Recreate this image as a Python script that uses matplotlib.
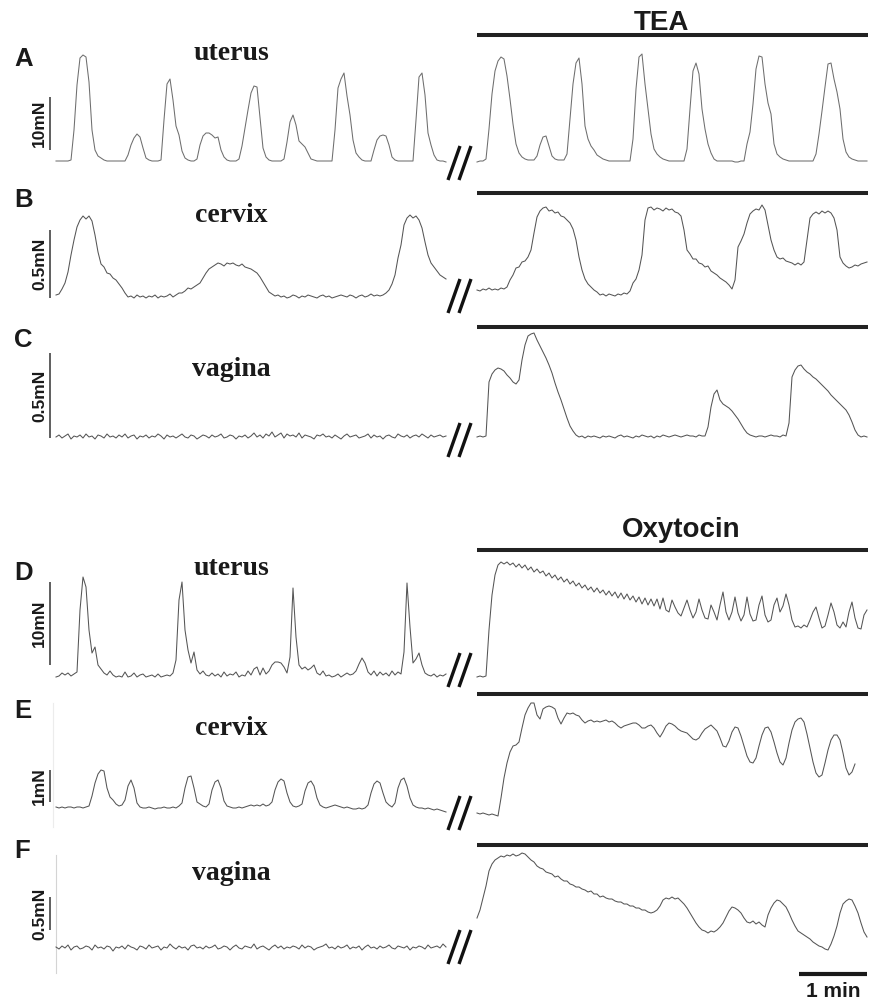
#%% -- imports --
import matplotlib
matplotlib.use('Agg')
import matplotlib.pyplot as plt

W, H = 869, 1001
DT = 60 * 3 / 68          # s between samples
N_SPAN = 130              # sample intervals per segment

#%% -- data: force above baseline (raw transducer units), one sample per DT --
uterus_ctrl_A = [0, 0, 0, 0, 0, 1, 31, 76, 103, 106,
                 104, 79, 31, 11, 5, 3, 1, 0, 0, 0,
                 0, 0, 0, 0, 6, 16, 23, 27, 24, 13,
                 3, 1, 0, 0, 0, 1, 41, 77, 82, 61,
                 35, 26, 10, 3, 1, 0, 0, 2, 16, 25,
                 28, 28, 26, 23, 24, 11, 4, 1, 0, 0,
                 0, 2, 15, 33, 51, 68, 75, 74, 43, 13,
                 4, 1, 0, 0, 0, 0, 2, 19, 39, 46,
                 36, 20, 17, 14, 8, 2, 1, 0, 0, 0,
                 0, 0, 0, 31, 73, 82, 88, 65, 46, 21,
                 8, 4, 1, 0, 0, 0, 11, 21, 25, 26,
                 25, 16, 4, 1, 0, 0, 0, 0, 0, 0,
                 41, 84, 88, 66, 28, 16, 6, 1, 0, 0, -1]
uterus_tea_A = [-1, 0, 0, 2, 32, 67, 90, 100, 104, 102,
                85, 62, 37, 17, 8, 4, 2, 1, 1, 1,
                5, 16, 24, 25, 15, 5, 2, 1, 1, 1,
                7, 42, 77, 98, 103, 77, 35, 22, 15, 11,
                6, 4, 2, 1, 0, 0, 0, 0, 0, 0,
                0, 0, 22, 72, 104, 107, 77, 52, 27, 12,
                7, 4, 2, 1, 0, 0, 0, 0, 0, 0,
                12, 52, 90, 98, 87, 52, 32, 17, 8, 2,
                0, 0, 0, 0, 0, 0, -1, -1, 0, 0,
                17, 29, 57, 92, 105, 104, 77, 58, 47, 17,
                7, 4, 2, 1, 0, 0, 0, 0, 0, 0,
                0, 0, 0, 7, 27, 50, 74, 97, 98, 82,
                69, 52, 22, 9, 4, 2, 1, 0, 0, 0, 0]
cervix_ctrl_B = [2, 3, 8, 14, 25, 42, 57, 70, 77, 81,
                 78, 81, 76, 62, 45, 33, 30, 24, 23, 19,
                 17, 13, 9, 4, 0, 1, -1, 2, 0, 1,
                 -1, 1, 0, 2, -1, 1, 0, 1, 3, 0,
                 2, 4, 4, 6, 9, 8, 10, 12, 14, 19,
                 24, 28, 30, 32, 34, 33, 31, 34, 33, 34,
                 32, 31, 33, 30, 29, 28, 26, 24, 20, 15,
                 10, 5, 3, 1, 2, 0, 1, -1, 0, 2,
                 1, -1, 1, 0, 2, 1, 0, -1, 1, 2,
                 0, 1, -1, 0, 1, 2, 1, 0, 2, 1,
                 -1, 1, 2, 0, 1, 3, 1, 2, 1, 2,
                 4, 7, 13, 22, 39, 52, 72, 79, 82, 79,
                 81, 77, 69, 55, 42, 34, 30, 26, 22, 20, 18]
cervix_tea_B = [7, 6, 8, 7, 9, 7, 8, 7, 9, 8,
                10, 17, 22, 29, 30, 35, 36, 40, 47, 64,
                80, 86, 89, 90, 86, 87, 84, 85, 81, 80,
                77, 74, 68, 57, 40, 27, 18, 13, 10, 7,
                5, 2, 3, 1, 3, 2, 1, 3, 2, 4,
                3, 6, 14, 18, 27, 42, 77, 89, 90, 87,
                89, 88, 86, 89, 87, 88, 85, 84, 81, 67,
                47, 43, 38, 38, 34, 33, 30, 31, 26, 24,
                22, 19, 17, 15, 12, 8, 17, 50, 56, 63,
                74, 83, 86, 88, 87, 92, 87, 72, 57, 47,
                40, 38, 39, 36, 35, 34, 32, 34, 32, 35,
                57, 79, 83, 85, 83, 86, 84, 86, 84, 79,
                67, 40, 34, 31, 29, 30, 32, 31, 33, 34, 35]
vagina_ctrl_C = [0, 2, -1, 1, 3, -2, 1, 0, 2, -1,
                 3, 0, 1, -2, 2, 1, -1, 3, 0, 1,
                 -1, 2, 0, 3, -1, 1, 2, -2, 1, 0,
                 2, -1, 1, 0, 3, 1, -2, 2, 0, 1,
                 -1, 1, 3, 0, -1, 2, 1, -2, 0, 2,
                 1, -1, 2, 0, 1, 3, -1, 0, 2, 1,
                 -2, 1, 0, 2, -1, 1, 4, 0, 2, -1,
                 3, 1, 5, 0, 2, 4, -1, 3, 1, 2,
                 0, 4, -1, 2, 1, 0, -2, 2, 1, 3,
                 0, 1, -1, 2, 0, -2, 1, 3, 0, 1,
                 2, -1, 0, 1, 3, -1, 2, 0, 1, -2,
                 1, 2, 0, -1, 3, 1, 0, 2, -1, 1,
                 2, 0, 3, 1, -1, 2, 0, 1, 2, 0, 1]
vagina_tea_C = [0, 1, 0, 1, 55, 63, 67, 69, 68, 66,
                62, 59, 55, 53, 57, 77, 92, 101, 103, 104,
                97, 91, 85, 79, 72, 64, 54, 45, 37, 28,
                19, 11, 6, 2, 0, 1, -1, 1, 0, 1,
                0, -1, 1, 0, 1, 0, -1, 1, 2, 0,
                1, 0, -1, 1, 0, 2, 1, 0, 1, -1,
                1, 0, 2, 1, 0, 1, 2, 1, 0, 1,
                2, 1, 1, 0, 2, 1, 1, 10, 30, 43,
                47, 37, 33, 31, 29, 26, 22, 18, 13, 8,
                4, 2, 1, 0, 1, 1, 0, 1, 2, 1,
                1, 0, 2, 1, 14, 60, 67, 71, 72, 68,
                65, 63, 60, 58, 55, 52, 49, 46, 42, 39,
                36, 33, 30, 27, 22, 15, 7, 2, 0, 1, 0]
uterus_ctrl_D = [0, 1, 4, 2, 4, 1, 3, 5, 67, 100,
                 90, 47, 24, 30, 12, 8, 4, 2, 6, 2,
                 0, 1, 0, 5, 0, 1, 4, 0, 2, 3,
                 0, 1, 2, 0, 3, 0, 1, 2, 1, 4,
                 17, 77, 95, 47, 27, 14, 25, 7, 3, 6,
                 2, 1, 4, 1, 3, 0, 5, 1, 3, 2,
                 5, 0, 2, 1, 6, 2, 8, 10, 2, 9,
                 3, 6, 12, 15, 15, 14, 10, 4, 20, 89,
                 40, 12, 8, 10, 7, 9, 12, 4, 2, 6,
                 1, 2, 0, 1, 3, 0, 2, 4, 2, 3,
                 6, 13, 19, 14, 5, 2, 6, 1, 5, 2,
                 4, 1, 6, 2, 5, 3, 25, 94, 50, 14,
                 18, 24, 12, 4, 2, 1, 3, 0, 2, 1, 3]
uterus_oxt_D = [0, 1, 0, 1, 47, 82, 102, 112, 115, 113,
                115, 112, 114, 110, 113, 109, 112, 107, 110, 105,
                108, 104, 106, 101, 104, 99, 102, 97, 100, 95,
                98, 93, 96, 91, 94, 89, 92, 87, 90, 85,
                89, 84, 87, 82, 86, 81, 85, 79, 84, 78,
                83, 77, 81, 75, 80, 73, 79, 72, 78, 71,
                78, 68, 79, 67, 65, 77, 70, 64, 61, 69,
                77, 67, 59, 65, 78, 67, 59, 58, 72, 65,
                57, 72, 85, 65, 57, 65, 80, 64, 56, 62,
                80, 63, 56, 57, 72, 81, 62, 55, 57, 72,
                79, 65, 71, 83, 72, 57, 50, 51, 49, 52,
                50, 57, 65, 70, 59, 49, 51, 62, 74, 65,
                52, 49, 55, 50, 65, 75, 59, 49, 48, 62, 67]
cervix_ctrl_E = [1, 0, 1, 0, 1, 1, 0, 1, 1, 0,
                 1, 2, 12, 25, 34, 38, 37, 20, 11, 8,
                 4, 2, 3, 8, 22, 28, 20, 5, 1, 0,
                 0, 1, 0, -1, 0, 0, 1, 0, 0, 1,
                 0, 2, 5, 20, 31, 32, 20, 6, 4, 2,
                 1, 4, 18, 26, 28, 20, 7, 2, 1, 0,
                 0, 1, 0, 1, 2, 3, 2, 3, 2, 4,
                 2, 3, 6, 18, 26, 29, 27, 15, 6, 2,
                 1, 2, 4, 17, 25, 27, 22, 10, 3, 1,
                 0, 1, 2, 3, 2, 1, 0, 1, 0, -1,
                 -1, 0, -1, 0, 3, 15, 24, 27, 25, 15,
                 6, 3, 1, 5, 20, 28, 30, 22, 10, 3,
                 1, 0, 0, -1, 0, -1, -2, -1, -2, -3, -4]
cervix_oxt_E = [-5, -6, -5, -6, -7, -6, -7, -8, 10, 30,
                45, 56, 62, 63, 66, 80, 93, 100, 105, 105,
                93, 89, 99, 101, 102, 101, 99, 90, 84, 90,
                95, 94, 95, 93, 92, 88, 85, 87, 88, 86,
                87, 86, 87, 88, 86, 87, 85, 82, 80, 82,
                83, 84, 85, 85, 83, 80, 80, 82, 83, 80,
                75, 71, 76, 82, 85, 84, 82, 79, 77, 76,
                75, 72, 69, 68, 70, 75, 79, 81, 83, 80,
                77, 70, 62, 61, 67, 76, 81, 80, 72, 62,
                52, 46, 45, 50, 62, 73, 80, 81, 76, 66,
                55, 46, 43, 50, 65, 78, 86, 89, 90, 86,
                74, 60, 46, 35, 31, 33, 45, 58, 68, 73,
                73, 68, 55, 40, 33, 36, 44]
vagina_ctrl_F = [1, -1, 2, 0, 3, -2, 1, 2, -1, 0,
                 2, 1, -2, 3, 0, 1, -1, 2, 1, -3,
                 1, 0, 2, -1, 3, 1, 0, -2, 2, 1,
                 -1, 3, 0, 1, 2, -2, 1, 0, 4, 1,
                 -1, 2, 0, 1, -2, 2, 3, 0, 1, -1,
                 2, 0, 1, 3, -1, 0, 2, 1, -2, 1,
                 3, 0, -1, 2, 1, 0, 4, -1, 1, 2,
                 0, -2, 1, 3, 0, 2, -1, 1, 0, 2,
                 1, -1, 3, 0, 2, 1, -2, 0, 1, 2,
                 4, 0, 1, -1, 2, 0, 1, 3, -1, 1,
                 0, 2, -2, 1, 3, 0, 1, -1, 2, 0,
                 1, 3, 0, -1, 2, 1, 0, 2, -2, 1,
                 0, 2, 1, -1, 3, 0, 1, 2, 0, 4, 1]
vagina_oxt_F = [30, 38, 50, 62, 77, 84, 88, 90, 92, 91,
                93, 92, 94, 92, 93, 95, 94, 91, 88, 86,
                82, 80, 79, 76, 75, 74, 71, 72, 69, 67,
                67, 64, 63, 61, 61, 59, 58, 56, 57, 54,
                54, 51, 52, 50, 49, 49, 47, 46, 46, 44,
                44, 42, 42, 40, 40, 38, 38, 36, 35, 36,
                38, 42, 48, 50, 49, 51, 49, 50, 47, 44,
                40, 35, 30, 25, 21, 18, 17, 15, 17, 16,
                18, 21, 25, 31, 37, 41, 40, 38, 35, 30,
                26, 25, 27, 24, 26, 23, 21, 33, 40, 45,
                48, 47, 44, 41, 35, 28, 22, 17, 15, 13,
                11, 9, 6, 4, 2, 1, -1, -2, 4, 12,
                22, 35, 44, 47, 49, 48, 42, 35, 25, 16, 11]

panels = ['A', 'B', 'C', 'D', 'E', 'F']
tissues = ['uterus', 'cervix', 'vagina', 'uterus', 'cervix', 'vagina']
control = [uterus_ctrl_A, cervix_ctrl_B, vagina_ctrl_C, uterus_ctrl_D, cervix_ctrl_E, vagina_ctrl_F]
treated = [uterus_tea_A, cervix_tea_B, vagina_tea_C, uterus_oxt_D, cervix_oxt_E, vagina_oxt_F]
treatments = ['TEA', 'Oxytocin']
# calibration bars: label, bar start and length in raw units
cal_labels = ['10mN', '0.5mN', '0.5mN', '10mN', '1mN', '0.5mN']
cal_start = [11, -1, -1, 12, 6, 18]
cal_length = [53, 68, 85, 83, 32, 33]

#%% -- layout (pixels) --
row_base = [161, 297, 437, 677, 808, 948]
drug_bar_y = [35, 193, 327, 550, 694, 845]
break_y = [163, 296, 440, 670, 813, 947]
letter_y = [66, 207, 347, 580, 718, 858]
title_y = [60, 222, 376, 575, 735, 880]
left_x0, right_x0 = 56, 477
trace_color = '#555555'
bold_sans = dict(family='Liberation Sans', weight='bold', color='#1a1a1a')

fig = plt.figure(figsize=(W / 100, H / 100), dpi=100)
fig.patch.set_facecolor('white')

ov = fig.add_axes([0, 0, 1, 1])
ov.set_xlim(0, W)
ov.set_ylim(H, 0)
ov.axis('off')


def trace_axes(x0, base, above=140, below=45):
    ax = fig.add_axes([x0 / W, 1 - (base + below) / H, 3 * N_SPAN / W, (above + below) / H])
    ax.set_xlim(0, N_SPAN * DT)
    ax.set_ylim(-below, above)
    ax.axis('off')
    ax.patch.set_alpha(0)
    return ax


for k, p in enumerate(panels):
    base = row_base[k]
    for x0, trace in [(left_x0, control[k]), (right_x0, treated[k])]:
        ax = trace_axes(x0, base)
        t = [i * DT for i in range(len(trace))]
        col = '#6e6e6e' if k == 0 else trace_color
        ax.plot(t, trace, color=col, lw=0.75, clip_on=False)
        if x0 == left_x0:
            # calibration bar + label
            xb = -2 * DT
            ax.plot([xb, xb], [cal_start[k], cal_start[k] + cal_length[k]],
                    color='#333333', lw=1.1, clip_on=False, solid_capstyle='butt')
            ax.text(-5.4 * DT, cal_start[k] + cal_length[k] / 2, cal_labels[k],
                    rotation=90, ha='center', va='center', fontsize=12.5, **bold_sans)
        if k == 5 and x0 == right_x0:
            ax.plot([N_SPAN * DT - 60, N_SPAN * DT], [-26, -26], color='#1a1a1a', lw=3,
                    clip_on=False, solid_capstyle='butt')
            ax.text(N_SPAN * DT - 30, -49, '1 min', ha='center', va='baseline',
                    fontsize=15, **bold_sans)

    # drug bar
    ov.plot([477, 868], [drug_bar_y[k], drug_bar_y[k]], color='#222222', lw=2.9,
            solid_capstyle='butt')
    # break marks
    c = break_y[k]
    for xo in (448, 459):
        ov.plot([xo, xo + 12], [c + 17, c - 17], color='#111111', lw=2.4, solid_capstyle='butt')
    ov.text(14, letter_y[k], p, ha='left', va='baseline', fontsize=18.5, **bold_sans)
    ov.text(231, title_y[k], tissues[k], ha='center', va='baseline', fontsize=20,
            family='Liberation Serif', weight='bold', color='#1a1a1a')

# faint chart-recorder edges
ov.plot([56, 56], [855, 973], color='#d4d4d4', lw=0.8)
ov.plot([53, 53], [703, 827], color='#ececec', lw=0.8)

ov.text(661, 30, treatments[0], ha='center', va='baseline', fontsize=20, **bold_sans)
ov.text(681, 537, treatments[1], ha='center', va='baseline', fontsize=20, **bold_sans)

fig.savefig('out.png', dpi=100)
